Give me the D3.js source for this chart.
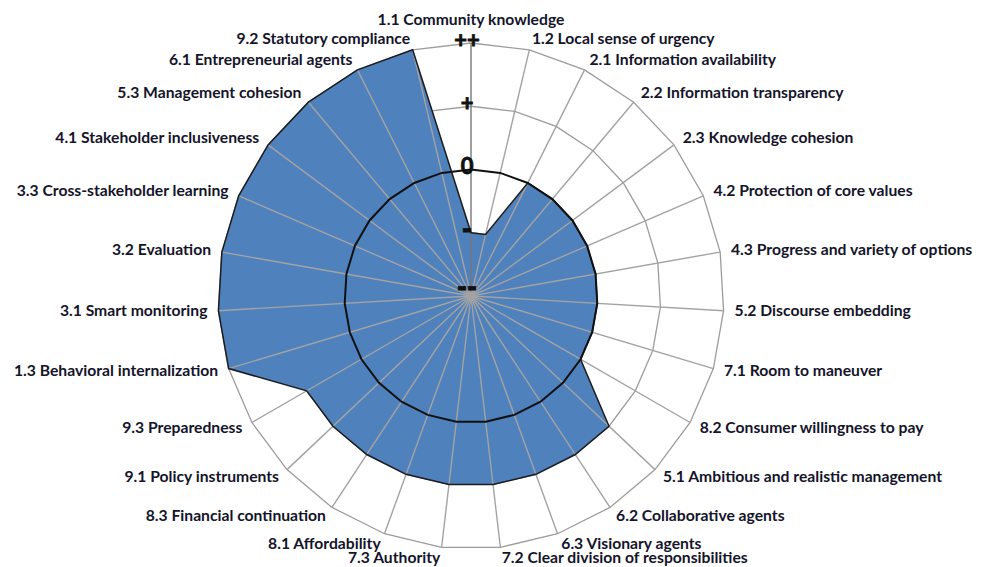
<!DOCTYPE html>
<html><head><meta charset="utf-8">
<script src="https://cdn.jsdelivr.net/npm/d3@7"></script>
<style>html,body{margin:0;padding:0;background:#fff;} svg{display:block;}</style>
</head><body>
<svg id="chart" width="983" height="567"></svg>
<script>
const categories = [
  "1.1 Community knowledge",
  "1.2 Local sense of urgency",
  "2.1 Information availability",
  "2.2 Information transparency",
  "2.3 Knowledge cohesion",
  "4.2 Protection of core values",
  "4.3 Progress and variety of options",
  "5.2 Discourse embedding",
  "7.1 Room to maneuver",
  "8.2 Consumer willingness to pay",
  "5.1 Ambitious and realistic management",
  "6.2 Collaborative agents",
  "6.3 Visionary agents",
  "7.2 Clear division of responsibilities",
  "7.3 Authority",
  "8.1 Affordability",
  "8.3 Financial continuation",
  "9.1 Policy instruments",
  "9.3 Preparedness",
  "1.3 Behavioral internalization",
  "3.1 Smart monitoring",
  "3.2 Evaluation",
  "3.3 Cross-stakeholder learning",
  "4.1 Stakeholder inclusiveness",
  "5.3 Management cohesion",
  "6.1 Entrepreneurial agents",
  "9.2 Statutory compliance"
];
const scores = [1,1,2,2,2,2,2,2,2,2,3,3,3,3,3,3,3,3,3,4,4,4,4,4,4,4,4];
const levelValues = [0,1,2,3,4];
const levelLabels = ["--","-","0","+","++"];
const neutralLevel = 2;

const cx = 471, cy = 296, R = 253;
const svg = d3.select("#chart");
const g = svg.append("g").attr("transform", `translate(${cx},${cy})`);
const r = d3.scaleLinear().domain([0, 4]).range([0, R]);
const angle = d3.scaleLinear().domain([0, categories.length]).range([0, 2 * Math.PI]);
const radial = d3.lineRadial()
  .angle((d, i) => angle(i))
  .radius(d => r(d))
  .curve(d3.curveLinearClosed);

// grid rings (under the fill)
levelValues.filter(v => v > 0 && v !== neutralLevel).forEach(v => {
  g.append("path")
    .attr("d", radial(categories.map(() => v)))
    .attr("fill", "none")
    .attr("stroke", "#9c9c9c")
    .attr("stroke-width", 1.3);
});

// filled area
g.append("path")
  .attr("d", radial(scores))
  .attr("fill", "#4f81bd")
  .attr("stroke", "none");

// spokes
g.selectAll("line.spoke").data(categories).join("line")
  .attr("class", "spoke")
  .attr("x1", 0).attr("y1", 0)
  .attr("x2", (d, i) => r(4) * Math.sin(angle(i)))
  .attr("y2", (d, i) => -r(4) * Math.cos(angle(i)))
  .attr("stroke", (d, i) => i === 0 ? "#777" : "#a3a3a3")
  .attr("stroke-width", 1.4);

// area outline
g.append("path")
  .attr("d", radial(scores))
  .attr("fill", "none")
  .attr("stroke", "#1c1c1c")
  .attr("stroke-width", 1.5)
  .attr("stroke-linejoin", "miter");

// neutral ("0") ring
g.append("path")
  .attr("d", radial(categories.map(() => neutralLevel)))
  .attr("fill", "none")
  .attr("stroke", "#111")
  .attr("stroke-width", 2);

// level labels
g.selectAll("text.level").data(levelValues).join("text")
  .attr("class", "level")
  .attr("x", -4)
  .attr("y", d => -r(d) + (d === 0 ? -9 : -4))
  .attr("text-anchor", "middle")
  .attr("dominant-baseline", "central")
  .attr("font-family", d => d < 2 ? "'DejaVu Sans', sans-serif" : "Lato, 'Open Sans', sans-serif")
  .attr("font-weight", "bold")
  .attr("font-size", d => d < 2 ? 24 : 22)
  .attr("fill", "#111")
  .attr("stroke", "#111")
  .attr("stroke-width", 0.8)
  .text((d, i) => levelLabels[i]);

// category labels
const lr = R + 11;
g.selectAll("text.cat").data(categories).join("text")
  .attr("class", "cat")
  .each(function(d, i) {
    const a = angle(i);
    const s = Math.sin(a), c = Math.cos(a);
    let x = lr * s, y = -lr * c - 1.5;
    let anchor = "middle";
    if (s > 0.05) anchor = "start";
    else if (s < -0.05) anchor = "end";
    else y -= 12;
    d3.select(this).attr("x", x).attr("y", y).attr("text-anchor", anchor);
  })
  .attr("dominant-baseline", "central")
  .attr("font-family", "Lato, 'Open Sans', sans-serif")
  .attr("font-weight", "bold")
  .attr("font-size", 15.7)
  .attr("fill", "#14142a")
  .text(d => d);
</script>
</body></html>
